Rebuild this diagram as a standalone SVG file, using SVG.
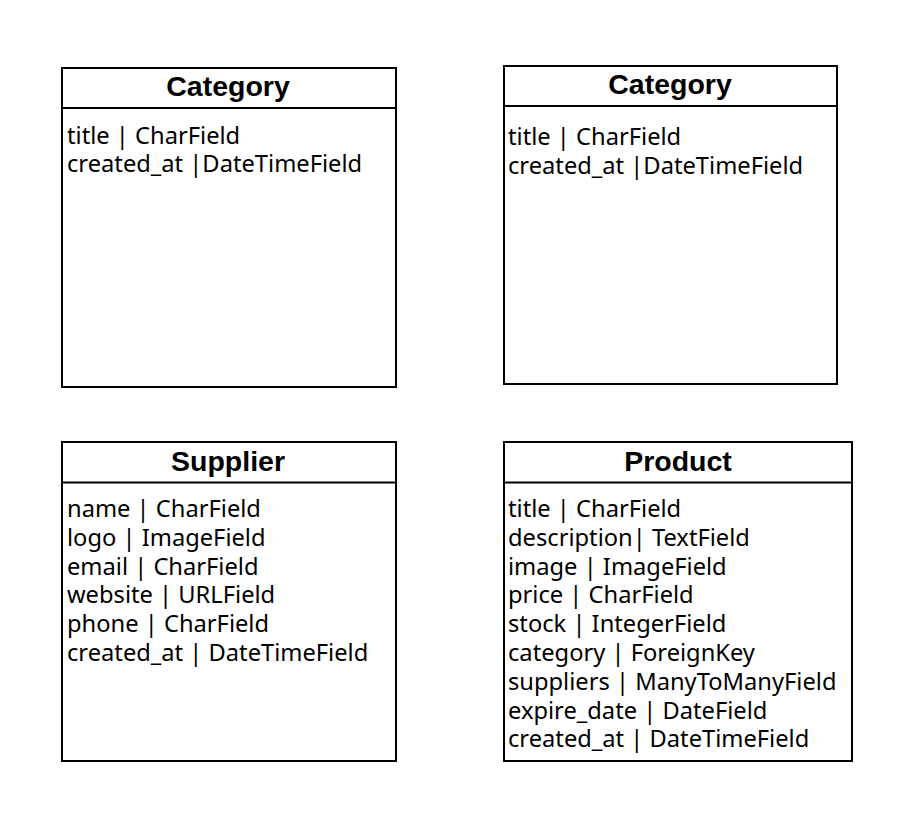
<svg xmlns="http://www.w3.org/2000/svg" width="898" height="840" viewBox="0 0 898 840">
<style>
.box{fill:#fff;stroke:#000;stroke-width:2}
.sep{stroke:#000;stroke-width:2}
.hd{font-family:"Liberation Sans",Arial,sans-serif;font-weight:bold;font-size:28.5px;fill:#000;text-anchor:middle}
.fd{font-family:"Noto Sans","Open Sans",sans-serif;font-size:23.7px;fill:#000}
</style>
<rect width="898" height="840" fill="#fff"/>
<g id="category1">
<rect class="box" x="62" y="68" width="334" height="319"/>
<line class="sep" x1="62" y1="108" x2="396" y2="108"/>
<text class="hd" x="228" y="95.5">Category</text>
<text class="fd" x="67"><tspan x="67" y="143.5">title | CharField</tspan><tspan x="67" y="172.3">created_at |DateTimeField</tspan></text>
</g>
<g id="category2">
<rect class="box" x="504" y="66" width="333" height="318"/>
<line class="sep" x1="504" y1="106" x2="837" y2="106"/>
<text class="hd" x="670" y="93.5">Category</text>
<text class="fd" x="508"><tspan x="508" y="145">title | CharField</tspan><tspan x="508" y="173.8">created_at |DateTimeField</tspan></text>
</g>
<g id="supplier">
<rect class="box" x="62" y="442" width="334" height="319"/>
<line class="sep" x1="62" y1="482.5" x2="396" y2="482.5"/>
<text class="hd" x="228" y="470.5">Supplier</text>
<text class="fd"><tspan x="67" y="517">name | CharField</tspan><tspan x="67" y="545.8">logo | ImageField</tspan><tspan x="67" y="574.6">email | CharField</tspan><tspan x="67" y="603.4">website | URLField</tspan><tspan x="67" y="632.2">phone | CharField</tspan><tspan x="67" y="661">created_at | DateTimeField</tspan></text>
</g>
<g id="product">
<rect class="box" x="504" y="442" width="348" height="319"/>
<line class="sep" x1="504" y1="482.5" x2="852" y2="482.5"/>
<text class="hd" x="678" y="470.5">Product</text>
<text class="fd"><tspan x="508" y="517">title | CharField</tspan><tspan x="508" y="545.8">description| TextField</tspan><tspan x="508" y="574.6">image | ImageField</tspan><tspan x="508" y="603.4">price | CharField</tspan><tspan x="508" y="632.2">stock | IntegerField</tspan><tspan x="508" y="661">category | ForeignKey</tspan><tspan x="508" y="689.8">suppliers | ManyToManyField</tspan><tspan x="508" y="718.6">expire_date | DateField</tspan><tspan x="508" y="747.4">created_at | DateTimeField</tspan></text>
</g>
<g id="connectors"></g>
</svg>
